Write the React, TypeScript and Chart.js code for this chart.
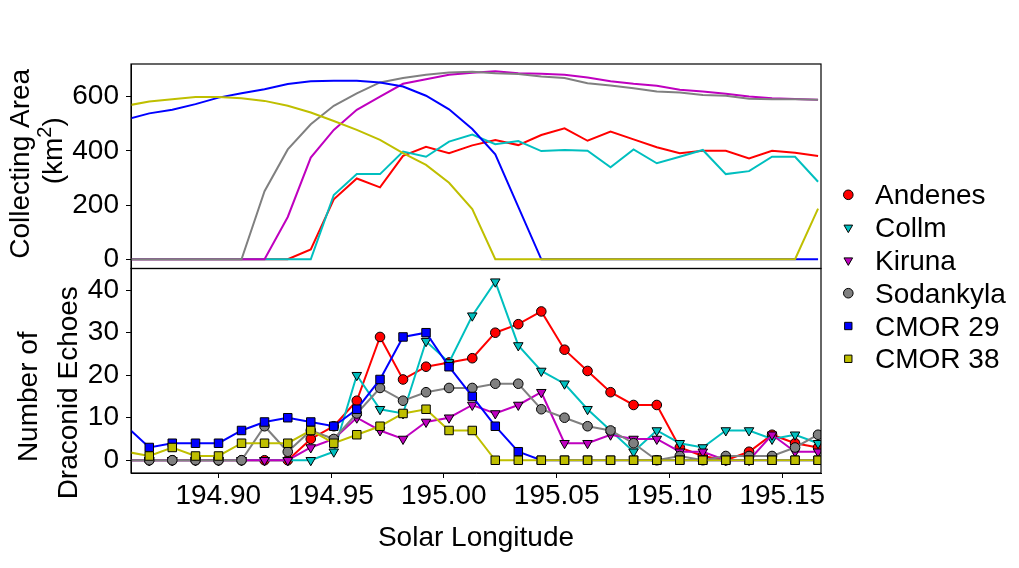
import React, { useRef, useEffect } from 'react';
import Chart from 'chart.js/auto';
import { drawPoint } from 'chart.js/helpers';

// 15-minute bins in solar longitude (first one sits just left of the axis)
const solarLongitude = [
  194.8592, 194.8694, 194.8796, 194.8899, 194.9001, 194.9103, 194.9205, 194.9308,
  194.941, 194.9512, 194.9614, 194.9717, 194.9819, 194.9921, 195.0023, 195.0126,
  195.0228, 195.033, 195.0432, 195.0535, 195.0637, 195.0739, 195.0841, 195.0944,
  195.1046, 195.1148, 195.125, 195.1353, 195.1455, 195.1557, 195.1659,
];
const xTicks = [194.9, 194.95, 195.0, 195.05, 195.1, 195.15];
const areaTicks = [0, 200, 400, 600];
const echoTicks = [0, 10, 20, 30, 40];

const stations = ['Andenes', 'Collm', 'Kiruna', 'Sodankyla', 'CMOR 29', 'CMOR 38'];

// collecting area, km^2
const areaAndenes = [0, 0, 0, 0, 0, 0, 0, 0, 36, 221, 298, 265, 381, 415, 391, 420, 440, 421, 458, 483, 437, 471, 442, 413, 391, 400, 400, 372, 400, 393, 381];
const areaCollm = [0, 0, 0, 0, 0, 0, 0, 0, 0, 237, 314, 314, 397, 378, 434, 460, 424, 436, 399, 403, 400, 339, 405, 354, 378, 403, 314, 325, 378, 378, 286];
const areaKiruna = [0, 0, 0, 0, 0, 0, 0, 156, 375, 477, 551, 600, 647, 664, 680, 688, 693, 686, 684, 680, 670, 656, 647, 640, 625, 619, 610, 600, 594, 591, 588];
const areaSodankyla = [0, 0, 0, 0, 0, 0, 251, 405, 498, 566, 612, 652, 668, 680, 689, 691, 686, 683, 674, 668, 649, 641, 631, 619, 615, 606, 603, 592, 590, 590, 588];
const areaCmor29 = [515, 538, 551, 572, 596, 612, 627, 646, 656, 658, 658, 652, 637, 603, 553, 480, 387, 193, 0, 0, 0, 0, 0, 0, 0, 0, 0, 0, 0, 0, 0];
const areaCmor38 = [566, 582, 590, 598, 598, 594, 584, 566, 541, 510, 477, 440, 391, 348, 282, 185, 0, 0, 0, 0, 0, 0, 0, 0, 0, 0, 0, 0, 0, 0, 187];

// number of Draconid echoes per bin
const echoesAndenes = [0, 0, 0, 0, 0, 0, 0, 0, 5, 8, 14, 29, 19, 22, 23, 24, 30, 32, 35, 26, 21, 16, 13, 13, 3, 1, 0, 2, 6, 4, 3];
const echoesCollm = [0, 0, 0, 0, 0, 0, 0, 0, 0, 2, 20, 12, 11, 28, 23, 34, 42, 27, 21, 18, 12, 7, 2, 7, 4, 3, 7, 7, 5, 6, 4];
const echoesKiruna = [0, 0, 0, 0, 0, 0, 0, 0, 3, 5, 10, 7, 5, 9, 10, 13, 11, 13, 16, 4, 4, 6, 5, 5, 2, 2, 0, 0, 6, 2, 2];
const echoesSodankyla = [0, 0, 0, 0, 0, 0, 8, 2, 7, 5, 11, 17, 14, 16, 17, 17, 18, 18, 12, 10, 8, 7, 4, 0, 1, 0, 1, 1, 1, 3, 6];
const echoesCmor29 = [8, 3, 4, 4, 4, 7, 9, 10, 9, 8, 12, 19, 29, 30, 22, 15, 8, 2, 0, 0, 0, 0, 0, 0, 0, 0, 0, 0, 0, 0, 0];
const echoesCmor38 = [2, 1, 3, 1, 1, 4, 4, 4, 7, 4, 6, 8, 11, 12, 7, 7, 0, 0, 0, 0, 0, 0, 0, 0, 0, 0, 0, 0, 0, 0, 0];

const areaSeries = [areaAndenes, areaCollm, areaKiruna, areaSodankyla, areaCmor29, areaCmor38];
const echoSeries = [echoesAndenes, echoesCollm, echoesKiruna, echoesSodankyla, echoesCmor29, echoesCmor38];

const colors = ['#ff0000', '#00bfbf', '#bf00bf', '#808080', '#0000ff', '#bfbf00'];
const markers = ['circle', 'triangle', 'triangle', 'circle', 'rect', 'rect'];
const markerRotation = [0, 180, 180, 0, 0, 0];
const markerRadius = [4.8, 5.5, 5.5, 4.8, 6, 6];
const legendRadius = [4.8, 5, 5, 4.8, 5.2, 5.2];

const FONT = '"Liberation Sans", Arial, sans-serif';

const toPoints = (vals: number[]) => vals.map((y, i) => ({ x: solarLongitude[i], y }));

// frames round each panel, y titles and the legend on the right
const decorPlugin = {
  id: 'decor',
  afterDraw(chart: any) {
    const { ctx, chartArea } = chart;
    const yA = chart.scales.yArea;
    const yE = chart.scales.yEcho;
    ctx.save();
    ctx.strokeStyle = '#000';
    ctx.lineWidth = 1.2;
    [yA, yE].forEach((s: any) => {
      ctx.strokeRect(chartArea.left, s.top, chartArea.right - chartArea.left, s.bottom - s.top);
    });

    ctx.fillStyle = '#000';
    ctx.textBaseline = 'alphabetic';
    ctx.textAlign = 'left';
    const rotated = (text: string, bx: number, cy: number) => {
      ctx.save();
      ctx.translate(bx, cy);
      ctx.rotate(-Math.PI / 2);
      ctx.font = `28px ${FONT}`;
      const w = ctx.measureText(text).width;
      ctx.fillText(text, -w / 2, 0);
      ctx.restore();
    };
    const midA = (yA.top + yA.bottom) / 2;
    const midE = (yE.top + yE.bottom) / 2;
    rotated('Collecting Area', 28.5, midA - 2.5);

    // "(km²)" with a raised 2
    ctx.save();
    ctx.translate(62, midA - 15.5);
    ctx.rotate(-Math.PI / 2);
    ctx.font = `28px ${FONT}`;
    const p1 = '(km';
    const p3 = ')';
    const w1 = ctx.measureText(p1).width;
    const w3 = ctx.measureText(p3).width;
    ctx.font = `20px ${FONT}`;
    const w2 = ctx.measureText('2').width;
    let x0 = -(w1 + w2 + w3) / 2;
    ctx.font = `28px ${FONT}`;
    ctx.fillText(p1, x0, 0);
    x0 += w1;
    ctx.font = `20px ${FONT}`;
    ctx.fillText('2', x0, -11);
    x0 += w2;
    ctx.font = `28px ${FONT}`;
    ctx.fillText(p3, x0, 0);
    ctx.restore();

    rotated('Number of', 36.7, midE + 26);
    rotated('Draconid Echoes', 76.7, midE + 22);

    // legend
    ctx.font = `28px ${FONT}`;
    stations.forEach((name, k) => {
      const base = 204.3 + k * 32.8;
      ctx.fillStyle = '#000';
      ctx.fillText(name, 875, base);
      ctx.fillStyle = colors[k];
      ctx.strokeStyle = '#000';
      ctx.lineWidth = 1;
      drawPoint(ctx, {
        pointStyle: markers[k],
        rotation: markerRotation[k],
        radius: legendRadius[k],
        borderWidth: 1,
      } as any, 848.3, base - 9.5);
    });
    ctx.restore();
  },
};

const tickFont = { family: FONT, size: 28 };

const App: React.FC = () => {
  const canvasRef = useRef<HTMLCanvasElement>(null);

  useEffect(() => {
    if (!canvasRef.current) return;
    document.body.style.margin = '0';

    const areaSets = areaSeries.map((vals, k) => ({
      label: stations[k] + ' area',
      data: toPoints(vals),
      yAxisID: 'yArea',
      borderColor: colors[k],
      backgroundColor: colors[k],
      borderWidth: 2,
      pointRadius: 0,
      order: 5 - k,
      clip: 0,
    }));
    const echoSets = echoSeries.map((vals, k) => ({
      label: stations[k],
      data: toPoints(vals),
      yAxisID: 'yEcho',
      borderColor: colors[k],
      backgroundColor: colors[k],
      borderWidth: 2,
      pointStyle: markers[k],
      pointRotation: markerRotation[k],
      pointRadius: markerRadius[k],
      pointBackgroundColor: colors[k],
      pointBorderColor: '#000',
      pointBorderWidth: 1,
      order: 5 - k,
      clip: 0,
    }));

    const chart = new Chart(canvasRef.current, {
      type: 'line',
      data: { datasets: [...areaSets, ...echoSets] as any },
      options: {
        responsive: true,
        maintainAspectRatio: false,
        animation: false,
        layout: { padding: { top: 64, right: 198, bottom: 0, left: 0 } },
        plugins: { legend: { display: false }, tooltip: { enabled: false } },
        scales: {
          x: {
            type: 'linear',
            position: 'bottom',
            min: 194.8613,
            max: 195.1672,
            afterBuildTicks: (s: any) => { s.ticks = xTicks.map((v) => ({ value: v })); },
            afterFit: (s: any) => { s.height = 95; },
            ticks: {
              color: '#000',
              font: tickFont,
              padding: 1,
              maxRotation: 0,
              autoSkip: false,
              callback: (v: any) => Number(v).toFixed(2),
            },
            grid: { drawOnChartArea: false, tickLength: 5, color: '#000' },
            border: { color: '#000' },
            title: {
              display: true,
              text: 'Solar Longitude',
              color: '#000',
              font: tickFont,
              padding: { top: 0, bottom: 13 },
            },
          },
          yEcho: {
            type: 'linear',
            position: 'left',
            stack: 'panels',
            stackWeight: 1,
            min: -3,
            max: 45.1,
            afterBuildTicks: (s: any) => { s.ticks = echoTicks.map((v) => ({ value: v })); },
            afterFit: (s: any) => { s.width = 131; },
            ticks: { color: '#000', font: tickFont, padding: 7, autoSkip: false },
            grid: { drawOnChartArea: false, tickLength: 5, color: '#000' },
            border: { color: '#000' },
          },
          yArea: {
            type: 'linear',
            position: 'left',
            stack: 'panels',
            stackWeight: 1,
            min: -34,
            max: 720,
            afterBuildTicks: (s: any) => { s.ticks = areaTicks.map((v) => ({ value: v })); },
            afterFit: (s: any) => { s.width = 131; },
            ticks: { color: '#000', font: tickFont, padding: 7, autoSkip: false },
            grid: { drawOnChartArea: false, tickLength: 5, color: '#000' },
            border: { color: '#000' },
          },
        },
      } as any,
      plugins: [decorPlugin],
    });

    return () => {
      chart.destroy();
    };
  }, []);

  return (
    <div style={{ position: 'relative', width: '1019px', height: '568px' }}>
      <canvas ref={canvasRef} />
    </div>
  );
};

export default App;
